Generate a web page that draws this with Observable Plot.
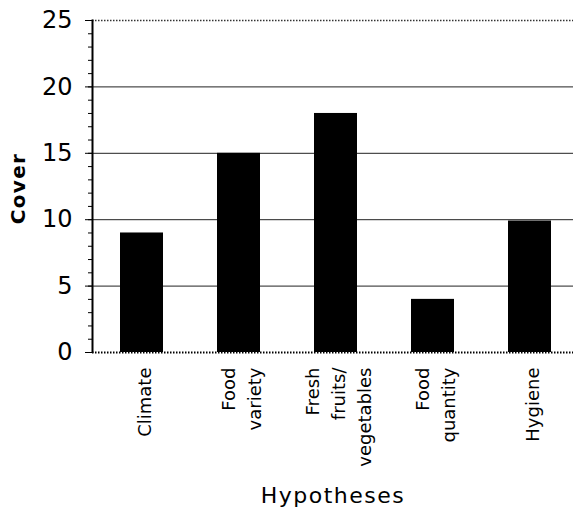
<!DOCTYPE html>
<html><head><meta charset="utf-8">
<script src="https://cdn.jsdelivr.net/npm/d3@7"></script>
<script src="https://cdn.jsdelivr.net/npm/@observablehq/plot@0.6"></script>
<style>body{margin:0;background:#fff} svg{display:block}</style>
</head><body><div id="chart"></div>
<script>
const categories = ["Climate", "Food variety", "Fresh fruits/vegetables", "Food quantity", "Hygiene"];
const values = [9, 15, 18, 4, 9.9];
const tickLabels = ["Climate", "Food\nvariety", "Fresh\nfruits/\nvegetables", "Food\nquantity", "Hygiene"];
const yTicks = [0, 5, 10, 15, 20, 25];
const yMinorTicks = d3.range(0, 26);
const gridValues = [5, 10, 15, 20];
const data = categories.map((c, i) => ({category: c, value: values[i], label: tickLabels[i]}));

const plot = Plot.plot({
  width: 573, height: 510,
  marginLeft: 92, marginRight: 0, marginTop: 20, marginBottom: 158,
  style: {fontFamily: "DejaVu Sans", background: "#fff", color: "#000", fontSize: "24px"},
  x: {domain: categories, range: [92, 578], paddingInner: 0.56, paddingOuter: 0.28, axis: null},
  y: {domain: [0, 25], axis: null},
  marks: [
    Plot.ruleY(gridValues, {stroke: "#222", strokeWidth: 1}),
    Plot.ruleY([25], {stroke: "#333", strokeWidth: 1.5, strokeDasharray: "1.5,1.5"}),
    Plot.barY(data, {x: "category", y: "value", fill: "#000"}),
    Plot.ruleY([0], {stroke: "#000", strokeWidth: 2, strokeDasharray: "1.5,1.5"}),
    Plot.frame({anchor: "left", stroke: "#000", strokeWidth: 2, strokeDasharray: "1.5,1.5"}),
    Plot.axisY({ticks: yMinorTicks, tickSize: 4, tickFormat: () => "", label: null}),
    Plot.axisY({ticks: yTicks, tickSize: 7, tickPadding: 13, fontSize: 24, label: null}),
    Plot.text(data, {x: "category", y: () => 0, text: "label", rotate: -90, textAnchor: "end", lineHeight: 1.45, dy: 15, dx: 1, fontSize: 18}),
    Plot.text(["Cover"], {text: d => d, frameAnchor: "left", textAnchor: "middle", lineAnchor: "middle", rotate: -90, dx: -74, dy: 2, fontSize: 20, fontWeight: "bold"}),
    Plot.text(["Hypotheses"], {text: d => d, frameAnchor: "bottom", textAnchor: "middle", lineAnchor: "middle", dy: 143.5, fontSize: 22})
  ]
});
d3.select(plot).selectAll("text").filter(function () { return this.textContent === "Cover"; })
  .attr("letter-spacing", "1.3px");
d3.select(plot).selectAll("text").filter(function () { return this.textContent === "Hypotheses"; })
  .attr("letter-spacing", "1.5px");
document.getElementById("chart").appendChild(plot);
</script>
</body></html>
